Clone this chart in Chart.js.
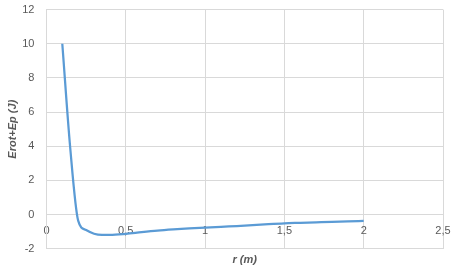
<!DOCTYPE html>
<html lang="fr">
<head>
  <meta charset="UTF-8">
  <title>Erot+Ep</title>
  <style>
    body {
      margin: 0;
      padding: 0;
      background: #fff;
    }
    .chart-container {
      width: 454px;
      height: 270px;
    }
  </style>
</head>
<body>
  <div class="chart-container">
    <canvas id="energyChart"></canvas>
  </div>

  <script src="https://cdn.jsdelivr.net/npm/chart.js"></script>
  <script>
    // valeurs
    const rValues = [0.1, 0.15, 0.2, 0.25, 0.3, 0.35, 0.4, 0.5, 0.6, 0.7, 0.8, 0.9, 1.0,
                     1.1, 1.2, 1.3, 1.4, 1.5, 1.6, 1.7, 1.8, 1.9, 2.0];
    const energyValues = [10, 3.9, -0.35, -0.9, -1.12, -1.19, -1.19, -1.13, -1.03, -0.94, -0.87, -0.81, -0.76,
                          -0.71, -0.67, -0.62, -0.56, -0.51, -0.48, -0.45, -0.42, -0.40, -0.37];
    const xTicks = [0, 0.5, 1, 1.5, 2, 2.5];
    const yTicks = [-2, 0, 2, 4, 6, 8, 10, 12];

    const fontFamily = "'Liberation Sans', Arial, sans-serif";
    const textColor = '#595959';
    const gridColor = '#d9d9d9';

    const points = rValues.map((r, i) => ({ x: r, y: energyValues[i] }));
    const commaFormat = v => String(v).replace('.', ',');

    const ctx = document.getElementById('energyChart').getContext('2d');
    new Chart(ctx, {
      type: 'scatter',
      data: {
        datasets: [{
          label: 'Erot+Ep',
          data: points,
          showLine: true,
          borderColor: '#5b9bd5',
          borderWidth: 2.25,
          pointRadius: 0,
          cubicInterpolationMode: 'monotone',
          fill: false
        }]
      },
      options: {
        responsive: true,
        maintainAspectRatio: false,
        animation: false,
        layout: {
          padding: { left: 6, right: 11, top: 1, bottom: 3 }
        },
        scales: {
          x: {
            type: 'linear',
            position: 'bottom',
            min: 0,
            max: 2.5,
            afterBuildTicks: axis => { axis.ticks = xTicks.map(v => ({ value: v })); },
            grid: { color: gridColor, drawTicks: false },
            border: { color: gridColor },
            ticks: { display: false },
            title: {
              display: true,
              text: 'r (m)',
              color: textColor,
              font: { family: fontFamily, size: 11, weight: 'bold', style: 'italic' },
              padding: { top: 5, bottom: 0 }
            }
          },
          xLabels: {
            type: 'linear',
            axis: 'x',
            position: { y: 0 },
            min: 0,
            max: 2.5,
            afterBuildTicks: axis => { axis.ticks = xTicks.map(v => ({ value: v })); },
            afterFit: axis => { axis.paddingLeft = 0; axis.paddingRight = 0; },
            grid: { display: false, drawTicks: false },
            border: { display: false },
            ticks: {
              color: textColor,
              padding: 10,
              font: { family: fontFamily, size: 11 },
              callback: commaFormat
            }
          },
          y: {
            min: -2,
            max: 12,
            afterBuildTicks: axis => { axis.ticks = yTicks.map(v => ({ value: v })); },
            grid: { color: gridColor, drawTicks: true, tickLength: 9, tickColor: 'rgba(0,0,0,0)' },
            border: { color: gridColor },
            ticks: {
              color: textColor,
              padding: 3,
              font: { family: fontFamily, size: 11 },
              callback: v => String(v)
            },
            title: {
              display: true,
              text: 'Erot+Ep (J)',
              color: textColor,
              font: { family: fontFamily, size: 11, weight: 'bold', style: 'italic' },
              padding: { top: 0, bottom: 0 }
            }
          }
        },
        plugins: {
          legend: { display: false },
          tooltip: { enabled: false }
        }
      }
    });
  </script>
</body>
</html>
